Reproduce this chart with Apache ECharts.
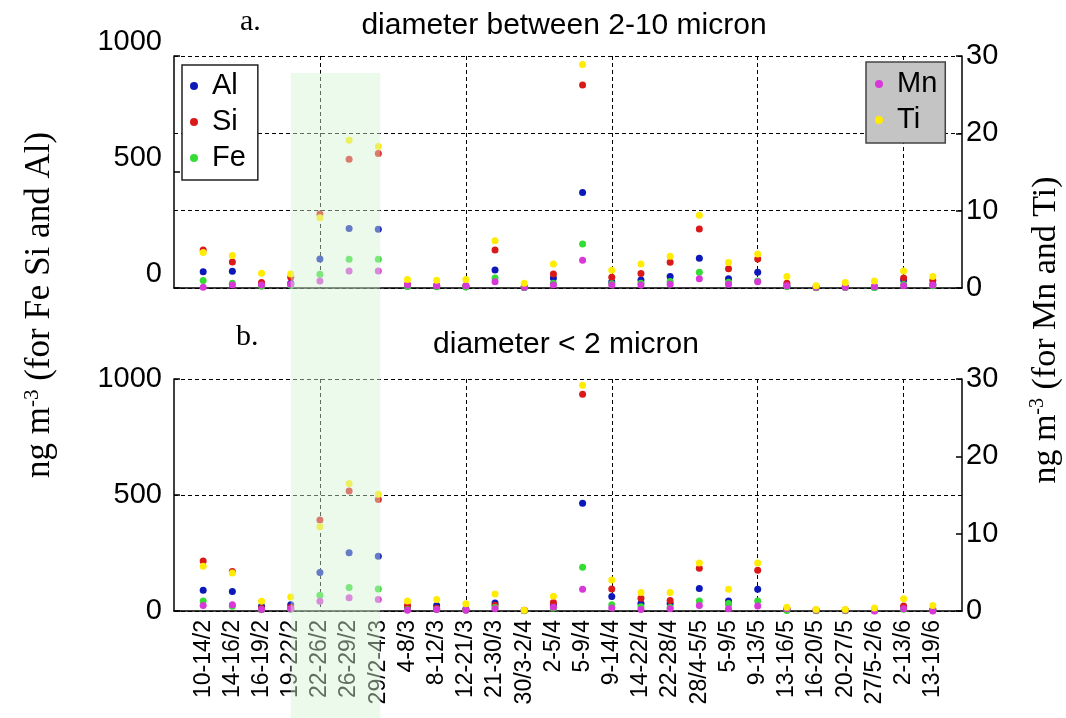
<!DOCTYPE html>
<html>
<head>
<meta charset="utf-8">
<script src="https://cdn.jsdelivr.net/npm/echarts@6/dist/echarts.min.js"></script>
<style>
html,body{margin:0;padding:0;background:#fff;}
#chart{width:1066px;height:718px;}
</style>
</head>
<body>
<div id="chart"></div>
<script>
// ---------- data ----------
var categories = ['10-14/2','14-16/2','16-19/2','19-22/2','22-26/2','26-29/2','29/2-4/3','4-8/3','8-12/3','12-21/3','21-30/3','30/3-2/4','2-5/4','5-9/4','9-14/4','14-22/4','22-28/4','28/4-5/5','5-9/5','9-13/5','13-16/5','16-20/5','20-27/5','27/5-2/6','2-13/6','13-19/6'];

// panel a: diameter between 2-10 micron
var coarseAl = [70, 72, 15, 20, 125, 256, 253, 8, 6, 5, 78, 2, 43, 412, 26, 34, 50, 128, 40, 68, 8, 2, 3, 3, 35, 15];
var coarseSi = [164, 112, 24, 46, 319, 555, 580, 15, 12, 10, 164, 5, 60, 875, 46, 63, 111, 254, 83, 125, 20, 3, 5, 6, 43, 32];
var coarseFe = [32, 20, 8, 12, 59, 124, 124, 6, 5, 4, 43, 2, 20, 190, 18, 20, 28, 68, 25, 30, 6, 1, 2, 2, 15, 10];
var coarseMn = [0.1, 0.4, 0.4, 0.5, 0.9, 2.2, 2.2, 0.4, 0.3, 0.3, 0.8, 0.1, 0.4, 3.6, 0.4, 0.4, 0.5, 1.2, 0.5, 0.8, 0.3, 0.1, 0.1, 0.2, 0.3, 0.4];
var coarseTi = [4.6, 4.2, 1.9, 1.8, 9.1, 19.1, 18.3, 1.1, 1.0, 1.1, 6.1, 0.6, 3.1, 28.9, 2.3, 3.1, 4.1, 9.4, 3.3, 4.4, 1.5, 0.3, 0.7, 0.9, 2.2, 1.5];

// panel b: diameter < 2 micron
var fineAl = [89, 84, 20, 27, 166, 251, 236, 10, 24, 8, 35, 2, 25, 464, 63, 32, 32, 97, 43, 94, 5, 2, 2, 3, 15, 4];
var fineSi = [216, 170, 12, 15, 392, 517, 481, 24, 12, 5, 25, 2, 37, 934, 95, 55, 45, 184, 30, 176, 10, 4, 4, 5, 22, 6];
var fineFe = [43, 20, 5, 8, 68, 101, 95, 5, 6, 3, 15, 1, 12, 189, 27, 18, 15, 43, 32, 43, 2, 1, 1, 1, 8, 2];
var fineMn = [0.7, 0.8, 0.2, 0.3, 1.25, 1.7, 1.5, 0.1, 0.2, 0.1, 0.3, 0.1, 0.5, 2.8, 0.4, 0.2, 0.3, 0.7, 0.3, 0.65, 0.3, 0.1, 0.1, 0.0, 0.3, 0.0];
var fineTi = [5.8, 4.9, 1.25, 1.8, 10.9, 16.5, 15.1, 1.3, 1.5, 0.95, 2.2, 0.1, 1.9, 29.2, 4.0, 2.4, 2.4, 6.2, 2.8, 6.2, 0.5, 0.2, 0.2, 0.4, 1.6, 0.7];

var leftTicks = [0, 500, 1000];
var rightTicks = [0, 10, 20, 30];
var bandStart = '19-22/2', bandEnd = '29/2-4/3';
var gridEvery = 5, gridFirst = '22-26/2';

// ---------- styling ----------
var colors = {Al:'#0c18b8', Si:'#da1a1a', Fe:'#35dc35', Mn:'#d838d8', Ti:'#ffec00'};
var SANS = "'Liberation Sans', Arial, sans-serif";
var SERIF = "'Liberation Serif', 'Times New Roman', serif";

var padded = [''].concat(categories).concat(['']);
var firstIdx = categories.indexOf(gridFirst) + 1;
function splitIv(i){ return i >= firstIdx && i <= categories.length && (i - firstIdx) % gridEvery === 0; }
function pad(arr){ return [null].concat(arr).concat([null]); }

var dash = {type:[4,3], color:'#000', width:1};
function xAx(g, showLabels){
  return {gridIndex:g, type:'category', data:padded, boundaryGap:false,
    axisLine:{show:true, lineStyle:{color:'#000', width:1.5}},
    axisTick:{show:false},
    axisLabel:{show:showLabels, interval:0, rotate:90, fontSize:23, color:'#000', fontFamily:SANS, margin:9, padding:[0,0,18,0]},
    splitLine:{show:true, interval:function(i){return splitIv(i);}, lineStyle:dash}};
}
function yAx(g, pos, ticks, split, va){
  var max = ticks[ticks.length-1], interval = ticks[1] - ticks[0];
  return {gridIndex:g, type:'value', position:pos, min:ticks[0], max:max, interval:interval,
    axisLine:{show:true, onZero:false, lineStyle:{color:'#000', width:1.5}},
    axisTick:{show:true, inside:true, length:6, lineStyle:{color:'#000', width:1.5}},
    axisLabel:{fontSize:29, color:'#000', fontFamily:SANS, margin: pos==='left'?12:4, verticalAlign:va,
      formatter:function(v){ return String(v); }},
    splitLine:{show:split, lineStyle:dash}};
}
function sc(name, data, xi, yi){
  return {name:name, type:'scatter', xAxisIndex:xi, yAxisIndex:yi, data:pad(data),
    symbol:'circle', symbolSize:7, itemStyle:{color:colors[name], opacity:1}, silent:true, z:3};
}

var chart = echarts.init(document.getElementById('chart'), null, {renderer:'canvas'});
var option = {
  animation:false,
  backgroundColor:'#fff',
  grid:[{left:174, right:104, top:56, height:232}, {left:174, right:104, top:379, height:232}],
  xAxis:[xAx(0,false), xAx(1,true)],
  yAxis:[yAx(0,'left',leftTicks,false,'bottom'), yAx(0,'right',rightTicks,true,'middle'),
         yAx(1,'left',leftTicks,true,'middle'), yAx(1,'right',rightTicks,false,'middle')],
  legend:[
    {data:['Al','Si','Fe'], orient:'vertical', left:182, top:65, icon:'circle', itemWidth:26, itemHeight:8, itemGap:4,
     backgroundColor:'#fff', borderColor:'#222', borderWidth:1.5, borderRadius:0, padding:[5,12,6,8], selectedMode:false,
     textStyle:{fontSize:29, lineHeight:32, color:'#000', fontFamily:SANS}},
    {data:['Mn','Ti'], orient:'vertical', left:866, top:62, icon:'circle', itemWidth:26, itemHeight:8, itemGap:4,
     backgroundColor:'#c4c4c4', borderColor:'#444', borderWidth:1.5, borderRadius:0, padding:[6,8,7,9], selectedMode:false,
     textStyle:{fontSize:29, lineHeight:32, color:'#000', fontFamily:SANS}}
  ],
  series:[
    sc('Al', coarseAl, 0, 0), sc('Si', coarseSi, 0, 0), sc('Fe', coarseFe, 0, 0), sc('Mn', coarseMn, 0, 1), sc('Ti', coarseTi, 0, 1),
    sc('Al', fineAl, 1, 2), sc('Si', fineSi, 1, 2), sc('Fe', fineFe, 1, 2), sc('Mn', fineMn, 1, 3), sc('Ti', fineTi, 1, 3)
  ]
};
chart.setOption(option);

var bx0 = chart.convertToPixel({xAxisIndex:1}, bandStart);
var bx1 = chart.convertToPixel({xAxisIndex:1}, bandEnd) + 2;
var yTop = chart.convertToPixel({yAxisIndex:1}, 27.8);

function ytitle(x, y, rest, fs){
  return {type:'text', x:x, y:y, rotation:Math.PI/2, z:50,
    style:{text:'{n|ng m}{s|-3}{n| ' + rest + '}', align:'center', verticalAlign:'middle',
      rich:{n:{fontSize:fs, fontFamily:SERIF, fill:'#000', lineHeight:fs+2},
            s:{fontSize:Math.round(fs*0.6), fontFamily:SERIF, fill:'#000', lineHeight:fs+2, verticalAlign:'top', padding:[0,0,Math.round(fs*0.44),0]}}}};
}

chart.setOption({graphic:[
  {type:'text', x:240, y:22, z:50, style:{text:'a.', font:'30px ' + SERIF, fill:'#000', align:'left', verticalAlign:'middle'}},
  {type:'text', x:564, y:26, z:50, style:{text:'diameter between 2-10 micron', font:'30px ' + SANS, fill:'#000', align:'center', verticalAlign:'middle'}},
  {type:'text', x:236, y:337, z:50, style:{text:'b.', font:'30px ' + SERIF, fill:'#000', align:'left', verticalAlign:'middle'}},
  {type:'text', x:566, y:345, z:50, style:{text:'diameter < 2 micron', font:'30px ' + SANS, fill:'#000', align:'center', verticalAlign:'middle'}},
  ytitle(40, 305, '(for Fe Si and Al)', 35),
  ytitle(1046, 330, '(for Mn and Ti)', 34),
  {type:'rect', z:100, silent:true, shape:{x:bx0, y:yTop, width:bx1 - bx0, height:718 - yTop},
   style:{fill:'rgba(212,244,212,0.45)'}}
]});
</script>
</body>
</html>
